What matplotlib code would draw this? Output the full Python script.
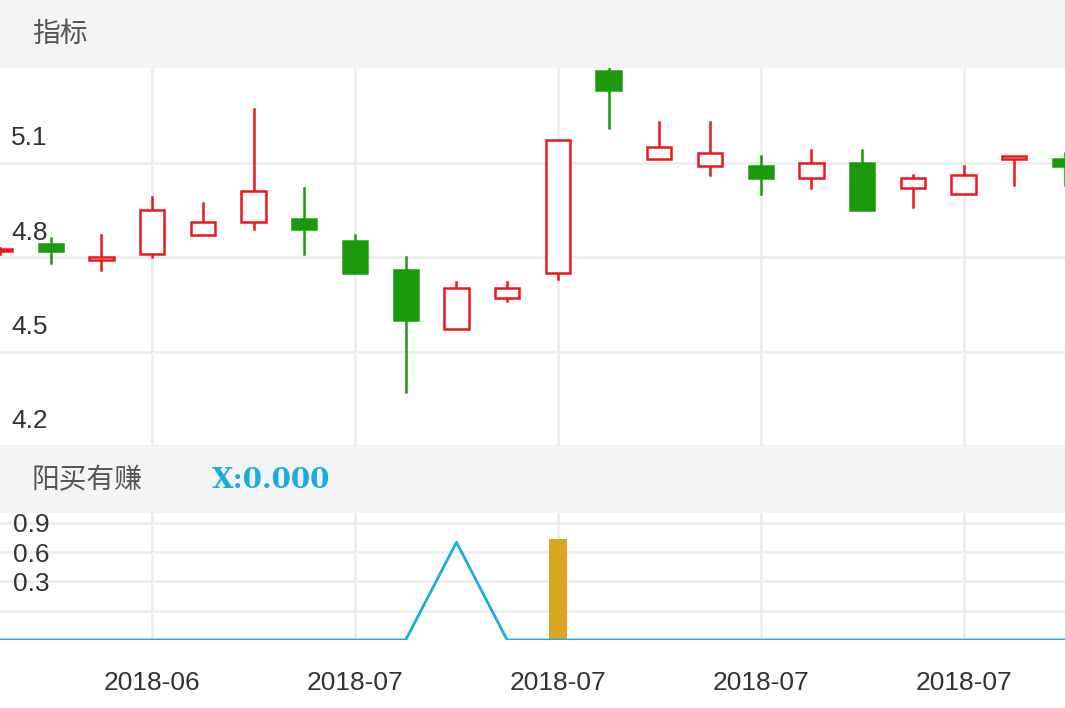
import matplotlib.pyplot as plt
from matplotlib.patches import Rectangle
from matplotlib.transforms import ScaledTranslation

plt.rcParams['font.family'] = ['Noto Sans CJK SC', 'DejaVu Sans']

# Candle data (open, close, high, low)
opens  = [4.82, 4.84, 4.79, 4.81, 4.87, 4.91, 4.92, 4.85, 4.76, 4.57, 4.67,
          4.75, 5.39, 5.11, 5.09, 5.09, 5.05, 5.10, 5.02, 5.00, 5.11, 5.11]
closes = [4.825, 4.82, 4.80, 4.95, 4.91, 5.01, 4.89, 4.75, 4.60, 4.70, 4.70,
          5.17, 5.33, 5.15, 5.13, 5.05, 5.10, 4.95, 5.05, 5.06, 5.12, 5.09]
highs  = [4.83, 4.86, 4.87, 4.99, 4.97, 5.27, 5.02, 4.87, 4.80, 4.72, 4.72,
          5.17, 5.40, 5.23, 5.23, 5.12, 5.14, 5.14, 5.06, 5.09, 5.12, 5.13]
lows   = [4.81, 4.78, 4.76, 4.80, 4.87, 4.89, 4.81, 4.75, 4.37, 4.57, 4.66,
          4.73, 5.21, 5.11, 5.06, 5.00, 5.02, 4.95, 4.96, 5.00, 5.03, 5.03]

# Indicator data
signal_line = [0, 0, 0, 0, 0, 0, 0, 0, 0, 1.0, 0, 0, 0, 0, 0, 0, 0, 0, 0, 0, 0, 0]
signal_bar  = [0, 0, 0, 0, 0, 0, 0, 0, 0, 0, 0, 1.03, 0, 0, 0, 0, 0, 0, 0, 0, 0, 0]

tick_pos = [3, 7, 11, 15, 19]
tick_labels = ['2018-06', '2018-07', '2018-07', '2018-07', '2018-07']

RED = '#f0151a'
GREEN = '#1a9a0a'
BLUE = '#1aabe0'
GOLD = '#daa520'
GRID = '#eeeeee'
TICKFONT = ['Liberation Sans', 'DejaVu Sans']

W, H = 1065, 708
fig = plt.figure(figsize=(W / 100, H / 100), dpi=100)

def box(y0, y1):
    return [0, 1 - y1 / H, 1, (y1 - y0) / H]

# header bars
for y0, y1 in [(0, 68), (446, 513)]:
    hb = fig.add_axes(box(y0, y1))
    hb.set_facecolor('#f4f4f4')
    hb.set_xticks([]); hb.set_yticks([])
    for s in hb.spines.values():
        s.set_visible(False)
fig.text(32 / W, 1 - 34 / H, '指标', fontsize=20, color='#555555', va='center')
fig.text(32 / W, 1 - 480 / H, '阳买有赚', fontsize=20, color='#555555', va='center')
fig.text(212 / W, 1 - 480 / H, 'X:0.000', fontsize=20, color=BLUE, va='center',
         family='DejaVu Serif', fontweight='bold')

# main candle chart
ax = fig.add_axes(box(68, 446))
for i in range(len(opens)):
    o, c, h, l = opens[i], closes[i], highs[i], lows[i]
    up = c >= o
    col = RED if up else GREEN
    ax.plot([i, i], [l, min(o, c)], color=col, lw=1.8, zorder=2)
    ax.plot([i, i], [max(o, c), h], color=col, lw=1.8, zorder=2)
    ax.add_patch(Rectangle((i - 0.24, min(o, c)), 0.48, max(abs(c - o), 0.005),
                           facecolor='white' if up else GREEN, edgecolor=col,
                           lw=1.8, zorder=3))
ax.set_xlim(0, 21)
ax.set_ylim(4.2, 5.4)
ax.set_yticks([4.2, 4.5, 4.8, 5.1])
ax.set_yticklabels(['4.2', '4.5', '4.8', '5.1'], fontsize=19, color='#333333',
                   family=TICKFONT)
ax.tick_params(axis='y', direction='in', length=0, pad=-12)
shift = ScaledTranslation(-4 / 72, 9 / 72, fig.dpi_scale_trans)
for lab in ax.get_yticklabels():
    lab.set_horizontalalignment('left')
    lab.set_verticalalignment('bottom')
    lab.set_transform(lab.get_transform() + shift)
ax.set_xticks(tick_pos)
ax.tick_params(axis='x', length=0, labelbottom=False)
ax.grid(True, color=GRID, lw=2)
ax.set_axisbelow(True)
for s in ax.spines.values():
    s.set_visible(False)

# indicator chart
ax2 = fig.add_axes(box(513, 640))
x = list(range(len(signal_line)))
ax2.bar(x, signal_bar, width=0.36, color=GOLD, zorder=2)
ax2.plot(x, signal_line, color=BLUE, lw=2, zorder=3)
ax2.set_xlim(0, 21)
ax2.set_ylim(0, 1.3)
ax2.set_yticks([0.3, 0.6, 0.9, 1.2])
ax2.set_yticklabels(['', '0.3', '0.6', '0.9'], fontsize=19, color='#333333',
                    family=TICKFONT)
ax2.tick_params(axis='y', direction='in', length=0, pad=-9)
for lab in ax2.get_yticklabels():
    lab.set_horizontalalignment('left')
ax2.set_xticks(tick_pos)
ax2.set_xticklabels(tick_labels, fontsize=19, color='#333333', family=TICKFONT)
ax2.tick_params(axis='x', length=0, pad=22)
ax2.grid(True, color=GRID, lw=2)
ax2.set_axisbelow(True)
for s in ax2.spines.values():
    s.set_visible(False)

fig.savefig('out.png', dpi=100)
